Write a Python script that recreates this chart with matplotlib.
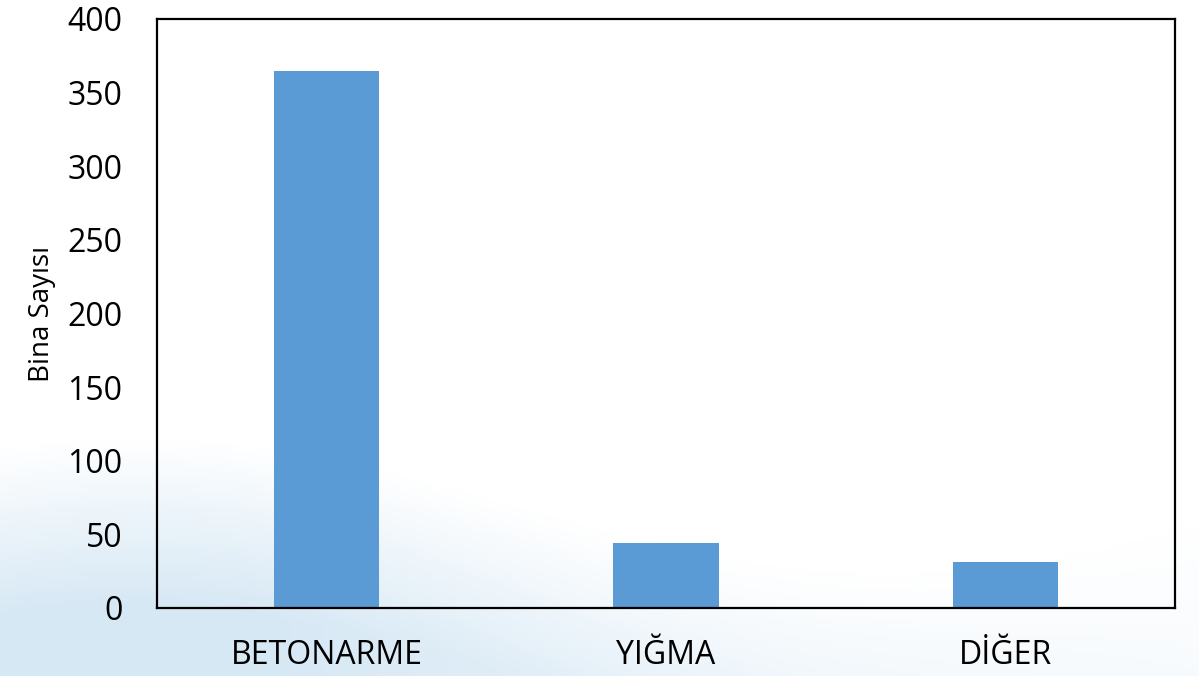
import numpy as np
import matplotlib.pyplot as plt

# Building counts per structure type
categories = ["BETONARME", "YIĞMA", "DİĞER"]
counts = [365, 44, 31]

plt.rcParams['font.family'] = ['Open Sans', 'DejaVu Sans']

fig = plt.figure(figsize=(11.99, 6.76), dpi=100)

# soft blue backdrop fading in toward the lower left
bg = fig.add_axes([0, 0, 1, 1], zorder=-1)
yy, xx = np.mgrid[0:1:200j, 0:1:300j]
wave = 0.25 + 0.1 * np.sin(xx * 5 + 1.0)
fade = np.clip((wave - yy) / 0.25, 0, 1) * np.clip(1.2 - xx, 0, 1)
top = np.array([1.0, 1.0, 1.0])
low = np.array([0.84, 0.91, 0.96])
img = top + (low - top) * fade[..., None]
bg.imshow(img, extent=[0, 1, 0, 1], origin='lower', aspect='auto')
bg.axis('off')

ax = fig.add_axes([0.131, 0.1006, 0.849, 0.8713])
ax.patch.set_alpha(0)
x = np.arange(len(categories))
ax.bar(x, counts, width=0.31, color='#5B9BD5')

ax.set_xlim(-0.5, len(categories) - 0.5)
ax.set_ylim(0, 400)
ax.set_yticks(range(0, 401, 50))
ax.set_xticks(x)
ax.set_xticklabels(categories)
ax.tick_params(axis='both', length=0, labelsize=23)
ax.tick_params(axis='y', pad=25)
ax.tick_params(axis='x', pad=22)
ax.set_ylabel("Bina Sayısı", fontsize=20, labelpad=8)

for s in ax.spines.values():
    s.set_color('black')
    s.set_linewidth(1.6)

fig.savefig('out.png', dpi=100)
